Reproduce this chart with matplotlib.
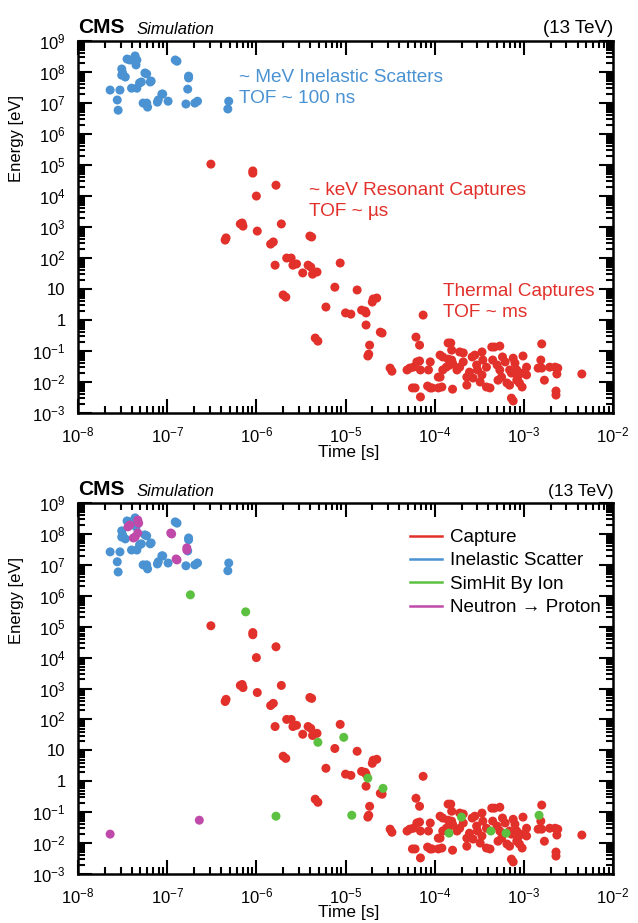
import numpy as np
import matplotlib
matplotlib.use("Agg")
import matplotlib.pyplot as plt
from matplotlib.ticker import LogLocator, FixedLocator, NullFormatter
from matplotlib.lines import Line2D

plt.rcParams["font.family"] = ["Liberation Sans", "DejaVu Sans"]
plt.rcParams["mathtext.fontset"] = "custom"
plt.rcParams["mathtext.rm"] = "Liberation Sans"
plt.rcParams["mathtext.it"] = "Liberation Sans:italic"

RED = "#e2302b"
BLUE = "#4a92d2"
GREEN = "#5cc040"
MAGENTA = "#c04aaa"

# log10(time [s]), log10(energy [eV])
blue_log_t = [-7.64, -7.56, -7.55, -7.53, -7.45, -7.42, -7.36, -7.34, -7.35, -7.51,
              -7.50, -7.51, -7.47, -7.40, -7.34, -7.31, -7.29, -7.25, -7.23, -7.19,
              -7.18, -7.27, -7.23, -7.22, -7.11, -7.10, -7.06, -7.05, -6.99, -6.91,
              -6.89, -6.76, -6.76, -6.77, -6.79, -6.69, -6.66, -6.32, -6.31]
blue_log_e = [7.42, 7.10, 6.77, 7.42, 8.42, 8.39, 8.52, 8.39, 8.23, 8.10,
              7.97, 7.90, 7.84, 7.48, 7.48, 7.65, 7.68, 7.97, 7.94, 7.68,
              7.71, 7.00, 7.00, 6.87, 7.03, 7.10, 7.29, 7.29, 7.06, 8.39,
              8.35, 7.81, 7.87, 7.45, 6.97, 7.00, 7.06, 6.81, 7.06]

red_log_t = [-6.51, -6.04, -6.04, -5.78, -6.00, -6.16, -6.18, -6.15, -6.34, -6.35,
             -5.99, -5.72, -5.81, -5.84, -5.40, -5.38, -5.66, -5.61, -5.79, -5.59,
             -5.55, -5.48, -5.42, -5.39, -5.37, -5.32, -5.06, -5.70, -5.67, -5.12,
             -4.87, -4.69, -4.65, -4.70, -5.22, -5.00, -4.94, -4.82, -4.77, -4.78,
             -4.77, -4.13, -4.61, -4.59, -5.34, -5.31, -4.73, -4.74, -4.75, -4.21,
             -4.17, -4.50, -4.48,
             -4.31, -4.28, -4.24, -4.20, -4.17, -4.16, -4.05, -4.07, -4.25, -4.22,
             -4.16, -4.05, -4.03, -3.96, -3.92, -3.94, -3.91, -3.87, -3.85, -3.82,
             -3.80, -3.81, -3.80, -3.72, -3.68, -3.75, -3.72, -3.64, -3.64, -3.58,
             -3.55, -3.53, -3.52, -3.46, -3.42, -3.47, -3.42, -3.38, -3.36, -3.33,
             -3.27, -3.35, -3.30, -3.27, -3.25, -3.24, -3.21, -3.19, -3.16, -3.14,
             -3.12, -3.12, -3.10, -3.08, -3.07, -3.05, -3.02, -3.01, -2.97, -2.97,
             -3.14, -3.16, -2.80, -2.81, -2.84, -2.80, -2.77, -2.71, -2.65, -2.62,
             -2.63, -2.64, -2.64, -2.35, -3.94, -3.91, -3.85, -3.83, -3.81, -3.61,
             -3.57, -3.68, -3.49, -3.29, -3.08, -3.01, -3.47, -3.96, -4.08]
red_log_e = [5.03, 4.74, 4.81, 4.35, 4.00, 3.13, 3.10, 3.03, 2.65, 2.58,
             2.87, 3.10, 2.52, 2.45, 2.71, 2.68, 2.00, 2.00, 1.77, 1.77,
             1.81, 1.52, 1.77, 1.71, 1.48, 1.55, 1.84, 0.81, 0.74, 1.06,
             0.97, 0.68, 0.71, 0.58, 0.42, 0.23, 0.19, 0.32, 0.23, 0.29,
             -0.16, 0.16, -0.39, -0.42, -0.58, -0.68, -0.81, -1.10, -1.16, -0.55,
             -0.81, -1.55, -1.65,
             -1.61, -1.55, -1.52, -1.35, -1.32, -1.61, -1.35, -1.61, -2.19, -2.19,
             -2.48, -2.19, -2.19, -2.19, -2.16, -1.84, -1.61, -1.52, -0.74, -0.74,
             -2.23, -1.29, -1.39, -1.03, -1.06, -1.61, -1.52, -1.84, -2.10, -1.19,
             -1.13, -1.45, -1.61, -1.29, -1.52, -1.77, -2.16, -2.19, -0.87, -0.87,
             -0.84, -1.29, -1.45, -1.61, -1.84, -1.19, -1.35, -2.03, -2.10, -2.52,
             -2.61, -1.23, -1.39, -1.61, -1.84, -2.03, -2.16, -1.16, -1.52, -1.77,
             -1.71, -1.61, -0.77, -1.29, -1.55, -1.55, -1.94, -1.52, -1.52, -1.55,
             -1.74, -2.29, -2.42, -1.74, -1.13, -1.19, -1.26, -1.45, -0.97, -1.68,
             -1.87, -1.35, -2.00, -1.94, -1.94, -1.71, -1.03, -1.84, -2.13]

green_log_t = [-6.74, -6.12, -5.31, -5.02, -4.75, -4.58, -5.78, -4.93, -3.84, -3.70,
               -3.37, -3.20, -2.83]
green_log_e = [6.03, 5.48, 1.26, 1.42, 0.10, -0.23, -1.13, -1.10, -1.68, -1.16,
               -1.61, -1.68, -1.10]

magenta_log_t = [-7.44, -7.42, -7.33, -7.32, -7.38, -7.36, -7.33, -6.96, -6.95, -6.90,
                 -6.89, -6.78, -6.78, -7.64, -6.64]
magenta_log_e = [8.23, 8.29, 8.45, 8.35, 7.87, 7.90, 8.03, 8.03, 8.00, 7.19,
                 7.16, 7.55, 7.48, -1.71, -1.26]

legend_labels = ["Capture", "Inelastic Scatter", "SimHit By Ion",
                 "Neutron \u2192 Proton"]
legend_colors = [RED, BLUE, GREEN, MAGENTA]

x_exps = list(range(-8, -1))
y_exps = list(range(-3, 10))


def y_label(n):
    if n == 0:
        return "1"
    if n == 1:
        return "10"
    return "$10^{%d}$" % n


def style_axes(ax, energy_size):
    ax.set_xscale("log")
    ax.set_yscale("log")
    ax.set_xlim(1e-8, 1e-2)
    ax.set_ylim(1e-3, 1e9)
    for s in ax.spines.values():
        s.set_linewidth(1.8)
    ax.xaxis.set_major_locator(FixedLocator([10.0 ** n for n in x_exps]))
    ax.set_xticklabels(["$10^{%d}$" % n for n in x_exps])
    ax.yaxis.set_major_locator(FixedLocator([10.0 ** n for n in y_exps]))
    ax.set_yticklabels([y_label(n) for n in y_exps])
    ax.xaxis.set_minor_locator(LogLocator(base=10, subs=np.arange(2, 10), numticks=20))
    ax.yaxis.set_minor_locator(LogLocator(base=10, subs=np.arange(2, 10), numticks=30))
    ax.xaxis.set_minor_formatter(NullFormatter())
    ax.yaxis.set_minor_formatter(NullFormatter())
    ax.tick_params(which="both", direction="in", top=True, right=True, width=1.5)
    ax.tick_params(which="major", length=10, labelsize=12)
    ax.tick_params(which="minor", length=5)
    ax.tick_params(axis="y", pad=9)
    ax.tick_params(axis="x", pad=9)
    ax.set_xlabel("Time [s]", fontsize=12.5, va="center")
    ax.xaxis.set_label_coords(0.505, -0.105)
    ax.set_ylabel("Energy [eV]", fontsize=12, ha="right", y=0.855, labelpad=6)
    ax.text(0.0, 1.012, "CMS", transform=ax.transAxes, fontsize=15,
            fontweight="bold", va="bottom", ha="left")
    ax.text(0.11, 1.012, "Simulation", transform=ax.transAxes, fontsize=12,
            style="italic", va="bottom", ha="left")
    ax.text(1.0, 1.012, "(13 TeV)", transform=ax.transAxes, fontsize=energy_size,
            va="bottom", ha="right")


def scatter(ax, lt, le, color):
    ax.scatter(10.0 ** np.array(lt), 10.0 ** np.array(le), s=42, color=color,
               edgecolors="none", zorder=3)


fig = plt.figure(figsize=(6.38, 9.23), dpi=100)
ax1 = fig.add_axes([0.1223, 0.5525, 0.8386, 0.4030])
ax2 = fig.add_axes([0.1223, 0.0531, 0.8386, 0.4019])

# top panel
scatter(ax1, red_log_t, red_log_e, RED)
scatter(ax1, blue_log_t, blue_log_e, BLUE)
style_axes(ax1, 13.5)
ax1.text(0.30, 0.925, "~ MeV Inelastic Scatters\nTOF ~ 100 ns", transform=ax1.transAxes,
         color=BLUE, fontsize=13.7, va="top", ha="left", linespacing=1.3)
ax1.text(0.432, 0.622, "~ keV Resonant Captures\nTOF ~ \u00b5s", transform=ax1.transAxes,
         color=RED, fontsize=13.7, va="top", ha="left", linespacing=1.3)
ax1.text(0.682, 0.349, "Thermal Captures\nTOF ~ ms", transform=ax1.transAxes,
         color=RED, fontsize=13.7, va="top", ha="left", linespacing=1.3)

# bottom panel
scatter(ax2, red_log_t, red_log_e, RED)
scatter(ax2, blue_log_t, blue_log_e, BLUE)
scatter(ax2, green_log_t, green_log_e, GREEN)
scatter(ax2, magenta_log_t, magenta_log_e, MAGENTA)
style_axes(ax2, 12.5)
handles = [Line2D([], [], color=c, lw=1.8) for c in legend_colors]
ax2.legend(handles, legend_labels, loc="upper left", bbox_to_anchor=(0.62, 0.93),
           frameon=False, fontsize=13.5, handlelength=1.7, handletextpad=0.45,
           labelspacing=0.33, borderpad=0, borderaxespad=0)

fig.savefig("out.png", dpi=100)
